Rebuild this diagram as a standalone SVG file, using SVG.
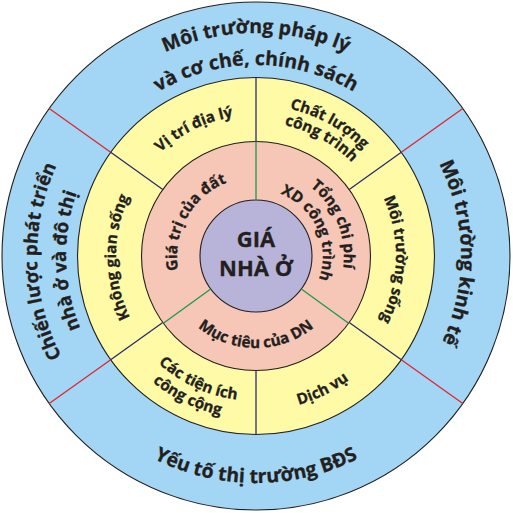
<svg xmlns="http://www.w3.org/2000/svg" width="513" height="513" viewBox="0 0 513 513">
<style>
.ring{stroke:#231f20;stroke-width:1.1}
.t{font-family:"Open Sans","Noto Sans","Liberation Sans",sans-serif;font-weight:700;fill:#231f20;stroke:#231f20;stroke-width:0.3;text-anchor:middle}
.o{font-size:19.5px}
.y{font-size:15.3px}
.p{font-size:15.3px}
.c{font-size:22px}
.red{stroke:#e0262c;stroke-width:1.3}
.navy{stroke:#2b2878;stroke-width:1.3}
.green{stroke:#1e9a48;stroke-width:1.3}
</style>
<defs>
<path id="cw223" d="M33 256A223 223 0 0 1 479 256"/>
<path id="cw191" d="M65 256A191 191 0 0 1 447 256"/>
<path id="cw205" d="M51 256A205 205 0 0 1 461 256"/>
<path id="cw219" d="M37 256A219 219 0 0 1 475 256"/>
<path id="cw190" d="M66 256A190 190 0 0 1 446 256"/>
<path id="cw141" d="M115 256A141 141 0 0 1 397 256"/>
<path id="cw151" d="M105 256A151 151 0 0 1 407 256"/>
<path id="cw134" d="M122 256A134 134 0 0 1 390 256"/>
<path id="cw140" d="M116 256A140 140 0 0 1 396 256"/>
<path id="cw79" d="M177 256A79 79 0 0 1 335 256"/>
<path id="cw88" d="M168 256A88 88 0 0 1 344 256"/>
<path id="cw67" d="M189 256A67 67 0 0 1 323 256"/>
<path id="ccw227" d="M29 256A227 227 0 0 0 483 256"/>
<path id="ccw155" d="M101 256A155 155 0 0 0 411 256"/>
<path id="ccw145" d="M111 256A145 145 0 0 0 401 256"/>
<path id="ccw163" d="M93 256A163 163 0 0 0 419 256"/>
<path id="ccw92" d="M164 256A92 92 0 0 0 348 256"/>
</defs>

<g id="rings">
<circle class="ring" cx="256" cy="256" r="254" fill="#a3d6f4"/>
<circle class="ring" cx="256" cy="256" r="178.5" fill="#fffaa6"/>
<circle class="ring" cx="256" cy="256" r="114.5" fill="#f6c6b6"/>
<circle class="ring" cx="256" cy="256" r="56" fill="#b8b4d9"/>
</g>

<g id="connectors">
<line class="red" x1="401.32" y1="152.34" x2="462.8" y2="108.5"/>
<line class="red" x1="401.32" y1="359.66" x2="462.8" y2="403.5"/>
<line class="red" x1="110.68" y1="359.66" x2="49.2" y2="403.5"/>
<line class="red" x1="110.68" y1="152.34" x2="49.2" y2="108.5"/>
<line class="navy" x1="256" y1="141.5" x2="256" y2="77.5"/>
<line class="navy" x1="256" y1="370.5" x2="256" y2="434.5"/>
<line class="navy" x1="349.22" y1="189.51" x2="401.32" y2="152.34"/>
<line class="navy" x1="349.22" y1="322.49" x2="401.32" y2="359.66"/>
<line class="navy" x1="162.78" y1="322.49" x2="110.68" y2="359.66"/>
<line class="navy" x1="162.78" y1="189.51" x2="110.68" y2="152.34"/>
<line class="green" x1="256" y1="200" x2="256" y2="141.5"/>
<line class="green" x1="301.3" y1="288.92" x2="348.63" y2="323.3"/>
<line class="green" x1="210.7" y1="288.92" x2="163.37" y2="323.3"/>
</g>

<g id="moi-truong-phap-ly">
<text class="t o"><textPath href="#cw223" startOffset="50%">Môi trường pháp lý</textPath></text>
<text class="t o"><textPath href="#cw191" startOffset="50%">và cơ chế, chính sách</textPath></text>
</g>
<g id="moi-truong-kinh-te">
<text class="t o" transform="rotate(89 256 256)"><textPath href="#cw205" startOffset="50%">Môi trường kinh tế</textPath></text>
</g>
<g id="yeu-to-thi-truong">
<text class="t o"><textPath href="#ccw227" startOffset="50%">Yếu tố thị trường BĐS</textPath></text>
</g>
<g id="chien-luoc">
<text class="t o" style="font-size:18.5px" transform="rotate(-91.5 256 256)"><textPath href="#cw219" startOffset="50%">Chiến lược phát triển</textPath></text>
<text class="t o" style="font-size:18.5px" transform="rotate(-91.5 256 256)"><textPath href="#cw190" startOffset="50%">nhà ở và đô thị</textPath></text>
</g>

<g id="vi-tri-dia-ly">
<text class="t y" transform="rotate(-26 256 256)"><textPath href="#cw141" startOffset="50%">Vị trí địa lý</textPath></text>
</g>
<g id="chat-luong">
<text class="t y" transform="rotate(29 256 256)"><textPath href="#cw151" startOffset="50%">Chất lượng</textPath></text>
<text class="t y" transform="rotate(29 256 256)"><textPath href="#cw134" startOffset="50%">công trình</textPath></text>
</g>
<g id="moi-truong-song">
<text class="t y" transform="rotate(91.5 256 256)"><textPath href="#cw140" startOffset="50%">Môi trường sống</textPath></text>
</g>
<g id="dich-vu">
<text class="t y" transform="rotate(-26.5 256 256)"><textPath href="#ccw155" startOffset="50%">Dịch vụ</textPath></text>
</g>
<g id="tien-ich">
<text class="t y" transform="rotate(25 256 256)"><textPath href="#ccw145" startOffset="50%">Các tiện ích</textPath></text>
<text class="t y" transform="rotate(26 256 256)"><textPath href="#ccw163" startOffset="50%">công cộng</textPath></text>
</g>
<g id="khong-gian-song">
<text class="t y" transform="rotate(-90.5 256 256)"><textPath href="#cw140" startOffset="50%">Không gian sống</textPath></text>
</g>

<g id="gia-tri-dat">
<text class="t p" transform="rotate(-61 256 256)"><textPath href="#cw79" startOffset="50%">Giá trị của đất</textPath></text>
</g>
<g id="tong-chi-phi">
<text class="t p" transform="rotate(68 256 256)"><textPath href="#cw88" startOffset="50%">Tổng chi phí</textPath></text>
<text class="t p" transform="rotate(66 256 256)"><textPath href="#cw67" startOffset="50%">XD công trình</textPath></text>
</g>
<g id="muc-tieu">
<text class="t p"><textPath href="#ccw92" startOffset="50%">Mục tiêu của DN</textPath></text>
</g>

<g id="gia-nha-o">
<text class="t c" x="256" y="247">GIÁ</text>
<text class="t c" x="256" y="276">NHÀ Ở</text>
</g>
</svg>
